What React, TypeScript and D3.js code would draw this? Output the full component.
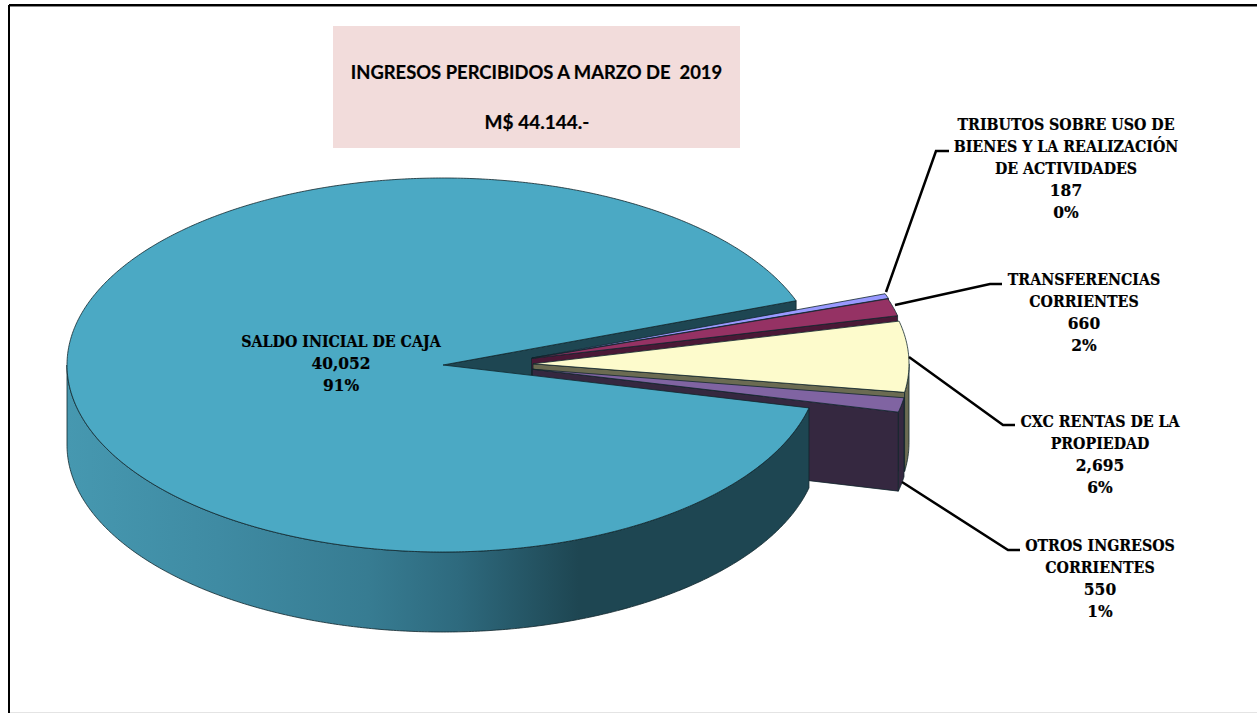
import React from "react";
import * as d3 from "d3";

const categories = ["TRIBUTOS SOBRE USO DE BIENES Y LA REALIZACIÓN DE ACTIVIDADES", "TRANSFERENCIAS CORRIENTES", "CXC RENTAS DE LA PROPIEDAD", "OTROS INGRESOS CORRIENTES", "SALDO INICIAL DE CAJA"];
const values = [187, 660, 2695, 550, 40052];
const percentLabels = ["0%", "2%", "6%", "1%", "91%"];
const labelLines = [
  ["TRIBUTOS SOBRE USO DE", "BIENES Y LA REALIZACIÓN", "DE ACTIVIDADES"],
  ["TRANSFERENCIAS", "CORRIENTES"],
  ["CXC RENTAS DE LA", "PROPIEDAD"],
  ["OTROS INGRESOS", "CORRIENTES"],
  ["SALDO INICIAL DE CAJA"],
];
const topColors = ["#9999FF", "#953264", "#FDFBCC", "#8064A2", "#4BA9C4"];
const wallColors = ["#3F3F78", "#4A1836", "#6B6B52", "#352840", "#1E4652"];
const explodeX = [89, 88.5, 90, 89.4, 0];
const explodeY = [-7, -6.6, -1.2, 4.2, 0];
const labelX = [1066, 1084, 1100, 1100, 341];
const labelY = [130, 285, 427, 551, 347];
const leaders: [number, number][][] = [
  [[886, 292], [936, 151], [949, 151]],
  [[895, 305], [990, 284], [1002, 284]],
  [[909, 357], [1003, 425], [1015, 425]],
  [[902, 482], [1008, 550], [1020, 550]],
];

const CX = 443, CY = 365, RX = 376, RY = 187, DEPTH = 79, MAIN_DEPTH = 80;
const LABEL_FONT = "'DejaVu Serif Condensed', 'DejaVu Serif', serif";
const TITLE_FONT = "Lato, sans-serif";
const EDGE = "#10262c";

type Pt = [number, number];

export default function App() {
  const pie = d3.pie<number>().sort(null).startAngle((69.9 * Math.PI) / 180).endAngle((69.9 * Math.PI) / 180 + 2 * Math.PI);
  const arcs = pie(values);
  const sx = d3.scaleLinear().domain([-1, 1]).range([CX - RX, CX + RX]);
  const sy = d3.scaleLinear().domain([-1, 1]).range([CY - RY, CY + RY]);
  const line = d3.line<Pt>();
  const pt = (a: number, i: number, dz = 0): Pt => [
    sx(Math.sin(a)) + explodeX[i],
    sy(-Math.cos(a)) + explodeY[i] + dz,
  ];
  const sample = (a0: number, a1: number, i: number, dz = 0): Pt[] => {
    const n = Math.max(2, Math.ceil(Math.abs(a1 - a0) * 120));
    return d3.range(n + 1).map((k) => pt(a0 + ((a1 - a0) * k) / n, i, dz));
  };
  const apex = (i: number, dz = 0): Pt => [sx(0) + explodeX[i], sy(0) + explodeY[i] + dz];

  const slice = (i: number) => {
    const d = i === 4 ? MAIN_DEPTH : DEPTH;
    const { startAngle: a0, endAngle: a1 } = arcs[i];
    const top = [apex(i), ...sample(a0, a1, i)];
    const endWall: Pt[] = [apex(i), pt(a1, i), pt(a1, i, d), apex(i, d)];
    // outer wall is visible only on the near half of the ellipse (pie angle 90deg..270deg)
    const v0 = Math.max(a0, Math.PI / 2);
    const v1 = Math.min(a1, (3 * Math.PI) / 2);
    const outer = v1 > v0 ? [...sample(v0, v1, i), ...sample(v1, v0, i, d)] : null;
    return { top, endWall, outer };
  };

  const main = slice(4);
  const common = { stroke: EDGE, strokeWidth: 0.8, strokeLinejoin: "round" as const };

  const textBlock = (i: number) => {
    const n = labelLines[i].length;
    const rows = [...labelLines[i], d3.format(",")(values[i]), percentLabels[i]];
    return rows.map((t, k) => (
      <text key={k} x={labelX[i]} y={labelY[i] + k * 21.9} textAnchor="middle" fontFamily={LABEL_FONT} fontWeight={700} fontSize={k < n ? 15.8 : 17.2} fill="#000" stroke="#000" strokeWidth={0.2}>
        {t}
      </text>
    ));
  };

  return (
    <svg width={1257} height={713} style={{ position: "absolute", left: 0, top: 0 }} aria-label={categories.join(", ")}>
      <defs>
        <linearGradient id="mainSide" gradientUnits="userSpaceOnUse" x1={67} x2={819} y1={0} y2={0}>
          <stop offset="0" stopColor="#4698B0" />
          <stop offset="0.2" stopColor="#3F8BA3" />
          <stop offset="0.4" stopColor="#377C92" />
          <stop offset="0.52" stopColor="#2E6A7E" />
          <stop offset="0.68" stopColor="#1E4652" />
          <stop offset="1" stopColor="#1E4652" />
        </linearGradient>
      </defs>
      <rect width={1257} height={713} fill="#fff" />
      <line x1={9} y1={5} x2={1257} y2={5} stroke="#000" strokeWidth={2} />
      <line x1={8} y1={6} x2={1257} y2={6} stroke="#888" strokeWidth={1} transform="translate(0,0.5)" />
      <line x1={9} y1={5} x2={9} y2={713} stroke="#000" strokeWidth={2} />
      <line x1={10} y1={712.5} x2={1257} y2={712.5} stroke="#e4e4e4" strokeWidth={1} />

      <rect x={333} y={26} width={407} height={122} fill="#F2DCDB" />
      <text x={536.5} y={78.5} textAnchor="middle" fontFamily={TITLE_FONT} fontWeight={700} fontSize={18.4} xmlSpace="preserve" stroke="#000" strokeWidth={0.2}>INGRESOS PERCIBIDOS A MARZO DE  2019</text>
      <text x={537} y={129} textAnchor="middle" fontFamily={TITLE_FONT} fontWeight={700} fontSize={19} stroke="#000" strokeWidth={0.2}>M$ 44.144.-</text>

      <path d={line(main.endWall)! + "Z"} fill={wallColors[4]} {...common} />
      {[0, 1, 2, 3].map((i) => {
        const s = slice(i);
        return (
          <g key={i}>
            <path d={line(s.endWall)! + "Z"} fill={wallColors[i]} {...common} />
            {s.outer && <path d={line(s.outer)! + "Z"} fill={wallColors[i]} {...common} />}
            <path d={line(s.top)! + "Z"} fill={topColors[i]} {...common} />
          </g>
        );
      })}
      <path d={line(main.outer!)! + "Z"} fill="url(#mainSide)" {...common} />
      <path d={line(main.top)! + "Z"} fill={topColors[4]} {...common} />

      {leaders.map((l, i) => (
        <path key={i} d={line(l)!} fill="none" stroke="#000" strokeWidth={2.5} />
      ))}
      {values.map((_, i) => (
        <g key={i}>{textBlock(i)}</g>
      ))}
    </svg>
  );
}
